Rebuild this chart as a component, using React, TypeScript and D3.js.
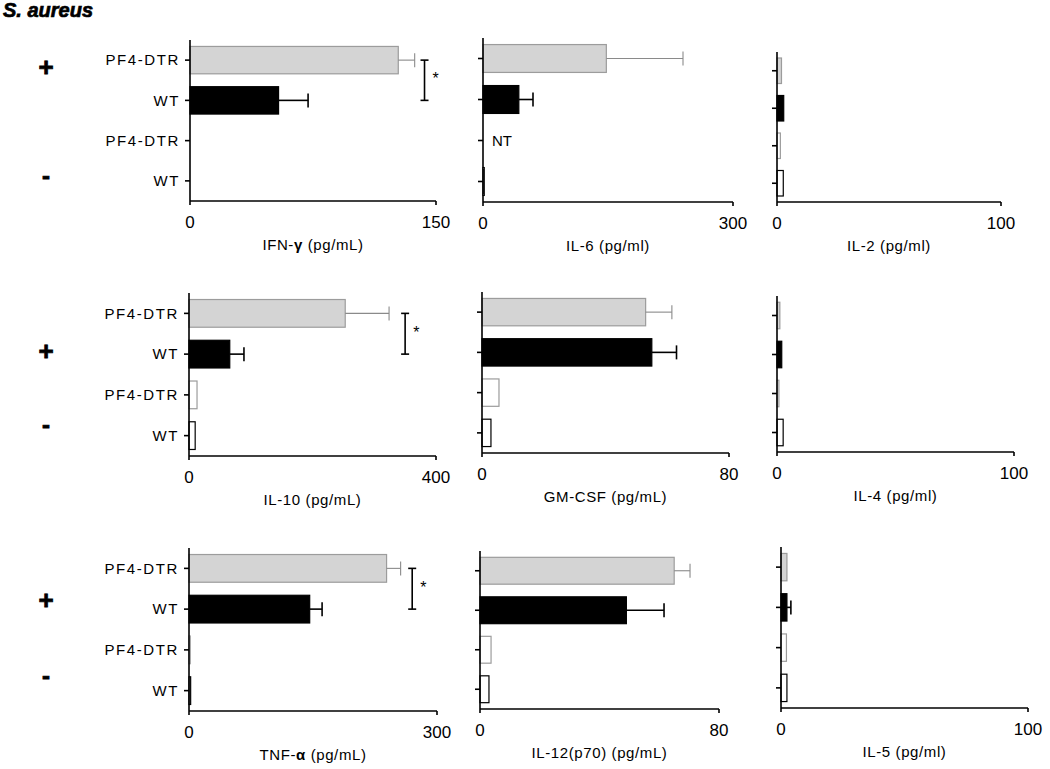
import React from 'react';
import * as d3 from 'd3';

// groups on the y axis, top to bottom ("+" = infected, "-" = uninfected)
const groupLabels = ['PF4-DTR', 'WT', 'PF4-DTR', 'WT'];
const signLabels = ['+', '-'];

const cytokineNames = ['IFN-', 'IL-6', 'IL-2', 'IL-10', 'GM-CSF', 'IL-4', 'TNF-', 'IL-12(p70)', 'IL-5'];
const greekSuffix = ['γ', '', '', '', '', '', 'α', '', ''];
const unitLabels = ['(pg/mL)', ' (pg/ml)', '(pg/ml)', '(pg/mL)', '(pg/mL)', '(pg/ml)', '(pg/mL)', '(pg/mL)', '(pg/ml)'];
const axisMax = [150, 300, 100, 400, 80, 100, 300, 80, 100];

const ifngMean = [127, 54, 0, 0];
const ifngErr = [10, 18, 0, 0];
const il6Mean = [148, 43, null, 1.5];
const il6Err = [92, 17, 0, 0];
const il2Mean = [2, 3, 1.5, 2.8];
const il2Err = [0, 0, 0, 0];
const il10Mean = [253, 66, 13, 10];
const il10Err = [71, 23, 0, 0];
const gmcsfMean = [53, 55, 5.5, 2.9];
const gmcsfErr = [8.5, 8, 0, 0];
const il4Mean = [1.2, 2, 0.8, 2.6];
const il4Err = [0, 0, 0, 0];
const tnfMean = [239, 146, 1.5, 2];
const tnfErr = [17, 15, 0, 0];
const il12Mean = [65, 49, 3.7, 3];
const il12Err = [5.3, 12.6, 0, 0];
const il5Mean = [2.4, 2.4, 2.2, 2.4];
const il5Err = [0, 1.6, 0, 0];

const means = [ifngMean, il6Mean, il2Mean, il10Mean, gmcsfMean, il4Mean, tnfMean, il12Mean, il5Mean];
const errs = [ifngErr, il6Err, il2Err, il10Err, gmcsfErr, il4Err, tnfErr, il12Err, il5Err];

// significance brackets (panel index, x position in data units)
const sigPanels = [0, 3, 6];
const sigX = [143, 350, 270];

// panel frames
const panels = [
  { x0: 190, x1: 436, top: 40, bottom: 201 },
  { x0: 483, x1: 733, top: 38, bottom: 202 },
  { x0: 777, x1: 1001, top: 52, bottom: 202 },
  { x0: 189, x1: 436, top: 293, bottom: 456 },
  { x0: 482, x1: 729, top: 292, bottom: 453 },
  { x0: 777, x1: 1014, top: 296, bottom: 452 },
  { x0: 189, x1: 437, top: 548, bottom: 711 },
  { x0: 480, x1: 719, top: 551, bottom: 709 },
  { x0: 781, x1: 1028, top: 547, bottom: 708 },
];
// where the +/- signs sit for each row, in band steps from the first band
const signPos = [[0.17, 2.86], [0.92, 2.73], [0.77, 2.63]];

const barStyle = [
  { fill: '#d4d4d4', stroke: '#9c9c9c' },
  { fill: '#000', stroke: '#000' },
  { fill: '#fff', stroke: '#9c9c9c' },
  { fill: '#fff', stroke: '#000' },
];
const errColor = ['#8a8a8a', '#000', '#8a8a8a', '#000'];

const font = '"Liberation Sans", Arial, sans-serif';

const Panel = ({ idx }: { idx: number }) => {
  const p = panels[idx];
  const col = idx % 3;
  const x = d3.scaleLinear().domain([0, axisMax[idx]]).range([p.x0, p.x1]);
  const y = d3
    .scaleBand<number>()
    .domain(d3.range(groupLabels.length))
    .range([p.top, p.bottom])
    .paddingInner(0.32)
    .paddingOuter(0.16);
  const bw = y.bandwidth();
  const mid = (i: number) => (y(i) as number) + bw / 2;
  const sig = sigPanels.indexOf(idx);

  return (
    <g>
      {means[idx].map((v, i) =>
        v === null ? (
          <text key={i} x={x(0) + 9} y={mid(i)} dy="0.35em" fontSize={15} fontFamily={font}>NT</text>
        ) : (
          <g key={i}>
            {v > 0 && (
              <rect x={x(0)} y={y(i)} width={x(v) - x(0)} height={bw}
                fill={barStyle[i].fill} stroke={barStyle[i].stroke} strokeWidth={1.2} />
            )}
            {errs[idx][i] > 0 && (
              <g stroke={errColor[i]} strokeWidth={i === 1 ? 1.6 : 1.1}>
                <line x1={x(v)} x2={x(v + errs[idx][i])} y1={mid(i)} y2={mid(i)} />
                <line x1={x(v + errs[idx][i])} x2={x(v + errs[idx][i])} y1={mid(i) - 7} y2={mid(i) + 7} />
              </g>
            )}
          </g>
        )
      )}
      {/* axes */}
      <g stroke="#000" strokeWidth={1.6} fill="none">
        <line x1={p.x0} x2={p.x0} y1={p.top} y2={p.bottom + 4} />
        <line x1={p.x0} x2={p.x1} y1={p.bottom} y2={p.bottom} />
        <line x1={p.x1} x2={p.x1} y1={p.bottom} y2={p.bottom + 4} />
        {groupLabels.map((_, i) => (
          <line key={i} x1={p.x0 - 5} x2={p.x0} y1={mid(i)} y2={mid(i)} />
        ))}
      </g>
      {col === 0 &&
        groupLabels.map((g, i) => (
          <text key={i} x={p.x0 - 10} y={mid(i)} dy="0.35em" textAnchor="end"
            fontSize={15} letterSpacing={1.6} fontFamily={font}>{g}</text>
        ))}
      {x.domain().map((t) => (
        <text key={t} x={x(t)} y={p.bottom + 21} dy="0.35em" textAnchor="middle"
          fontSize={17} fontFamily={font}>{t}</text>
      ))}
      <text x={(p.x0 + p.x1) / 2} y={p.bottom + 44} dy="0.35em" textAnchor="middle"
        fontSize={15} letterSpacing={0.6} fontFamily={font}>
        {cytokineNames[idx]}
        {greekSuffix[idx] && <tspan fontWeight="bold">{greekSuffix[idx]}</tspan>}
        {' '}{unitLabels[idx]}
      </text>
      {sig >= 0 && (
        <g>
          <g stroke="#000" strokeWidth={1.6}>
            <line x1={x(sigX[sig])} x2={x(sigX[sig])} y1={mid(0)} y2={mid(1)} />
            <line x1={x(sigX[sig]) - 4} x2={x(sigX[sig]) + 4} y1={mid(0)} y2={mid(0)} />
            <line x1={x(sigX[sig]) - 4} x2={x(sigX[sig]) + 4} y1={mid(1)} y2={mid(1)} />
          </g>
          <text x={x(sigX[sig]) + 8} y={(mid(0) + mid(1)) / 2 + 4} fontSize={16} fontFamily={font}>*</text>
        </g>
      )}
      {col === 0 &&
        signLabels.map((s, k) => (
          <text key={s} x={46} y={mid(0) + signPos[Math.floor(idx / 3)][k] * y.step()} dy="0.35em"
            textAnchor="middle" fontSize={k === 0 ? 26 : 24} fontWeight="bold" fontFamily={font}
            stroke="#000" strokeWidth={0.8}>{s}</text>
        ))}
    </g>
  );
};

export default function App() {
  return (
    <svg width={1050} height={769} style={{ position: 'absolute', left: 0, top: 0, background: '#fff' }}>
      <text x={3} y={17} fontSize={20} fontWeight="bold" fontStyle="italic" fontFamily={font}
        stroke="#000" strokeWidth={0.7}>S. aureus</text>
      {panels.map((_, i) => (
        <Panel key={i} idx={i} />
      ))}
    </svg>
  );
}
